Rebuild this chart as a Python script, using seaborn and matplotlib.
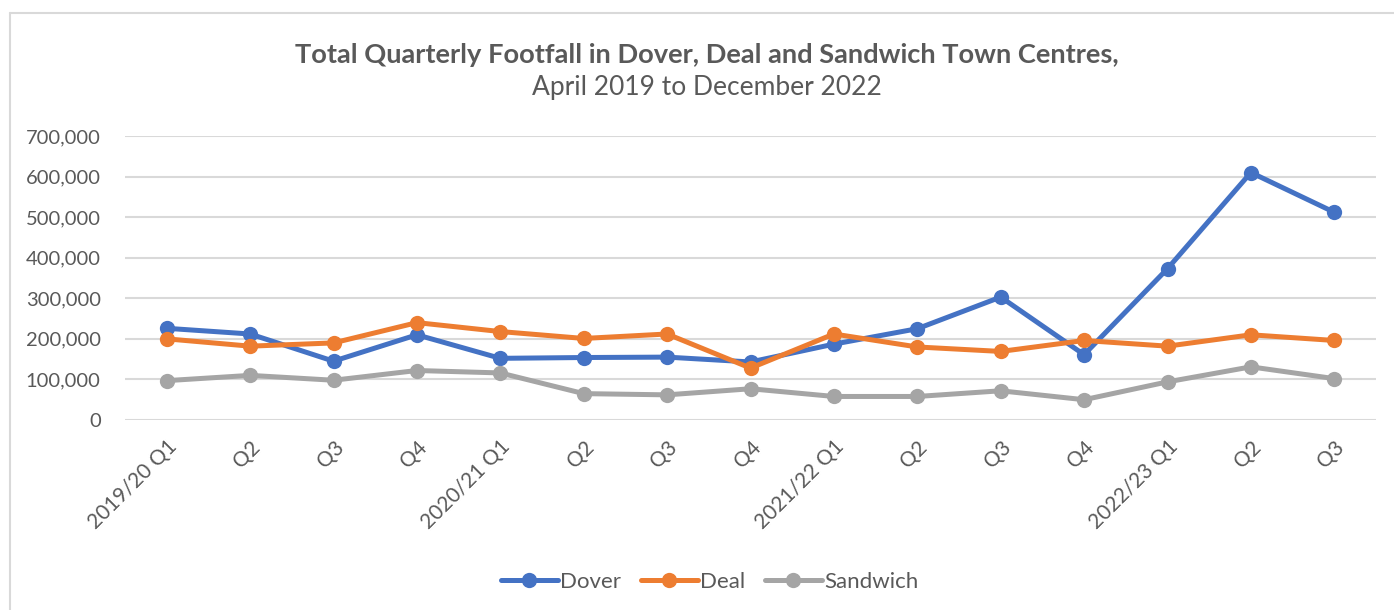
import numpy as np
import pandas as pd
import matplotlib
matplotlib.use("Agg")
import matplotlib.pyplot as plt
from matplotlib.lines import Line2D
from matplotlib.ticker import FuncFormatter
import seaborn as sns

# Quarterly footfall, April 2019 to December 2022
quarters = ["2019/20 Q1", "Q2", "Q3", "Q4",
            "2020/21 Q1", "Q2", "Q3", "Q4",
            "2021/22 Q1", "Q2", "Q3", "Q4",
            "2022/23 Q1", "Q2", "Q3"]
dover = [226000, 212000, 145000, 210000, 152000, 154000, 155000, 143000,
         187000, 225000, 303000, 161000, 373000, 610000, 512000]
deal = [200000, 182000, 190000, 240000, 218000, 201000, 212000, 128000,
        212000, 180000, 169000, 196000, 182000, 210000, 196000]
sandwich = [97000, 110000, 98000, 122000, 116000, 65000, 62000, 77000,
            58000, 58000, 72000, 50000, 94000, 131000, 102000]
towns = ["Dover", "Deal", "Sandwich"]
colors = ["#4472C4", "#ED7D31", "#A5A5A5"]

idx = np.arange(len(quarters))
df = pd.concat([
    pd.DataFrame({"pos": idx, "footfall": vals, "town": name})
    for name, vals in zip(towns, [dover, deal, sandwich])
], ignore_index=True)

sns.set_theme(style="white")
plt.rcParams["font.family"] = ["Lato", "DejaVu Sans"]
text_color = "#595959"

fig = plt.figure(figsize=(13.94, 6.10), dpi=100)
ax = fig.add_axes([125 / 1394, 190 / 610, (1376 - 125) / 1394, (420 - 136) / 610])

sns.lineplot(data=df, x="pos", y="footfall", hue="town", hue_order=towns,
             palette=colors, marker="o", markersize=11, markeredgewidth=0,
             linewidth=3.6, ax=ax, legend=False)

ax.set_xlim(-0.5, len(quarters) - 0.5)
ax.set_ylim(0, 700000)
ax.set_yticks(np.arange(0, 700001, 100000))
ax.yaxis.set_major_formatter(FuncFormatter(lambda v, p: f"{int(v):,}"))
ax.set_xticks(idx)
ax.set_xticklabels(quarters, rotation=45, ha="right", va="top",
                   rotation_mode="anchor")
ax.tick_params(axis="both", length=0, labelsize=14.5, colors=text_color)
ax.tick_params(axis="x", labelsize=15, pad=12)
ax.tick_params(axis="y", pad=17.5)
ax.grid(axis="y", color="#D9D9D9", linewidth=1.5)
ax.grid(axis="x", visible=False)
ax.set_axisbelow(True)
for s in ax.spines.values():
    s.set_visible(False)
ax.set_xlabel("")
ax.set_ylabel("")

# Titles
fig.text(0.507, 1 - 55 / 610, "Total Quarterly Footfall in Dover, Deal and Sandwich Town Centres,",
         ha="center", va="center", fontsize=19.6, fontweight="bold", color=text_color)
fig.text(0.507, 1 - 88 / 610, "April 2019 to December 2022",
         ha="center", va="center", fontsize=19, color=text_color)

# Legend
handles = [Line2D([0], [0], color=c, linewidth=3.6, marker="o", markersize=11,
                  markeredgewidth=0) for c in colors]
fig.legend(handles, towns, loc="center", bbox_to_anchor=(0.509, 28 / 610), ncol=3,
           frameon=False, fontsize=16, labelcolor=text_color, handlelength=2.55,
           handletextpad=0.1, columnspacing=0.9)

# Chart border
fig.add_artist(Line2D([10 / 1394, 10 / 1394], [0, 1 - 13 / 610],
                      transform=fig.transFigure, color="#D9D9D9", linewidth=1.5))
fig.add_artist(Line2D([10 / 1394, 1], [1 - 13 / 610, 1 - 13 / 610],
                      transform=fig.transFigure, color="#D9D9D9", linewidth=1.5))

fig.savefig("out.png", dpi=100, facecolor="white")
